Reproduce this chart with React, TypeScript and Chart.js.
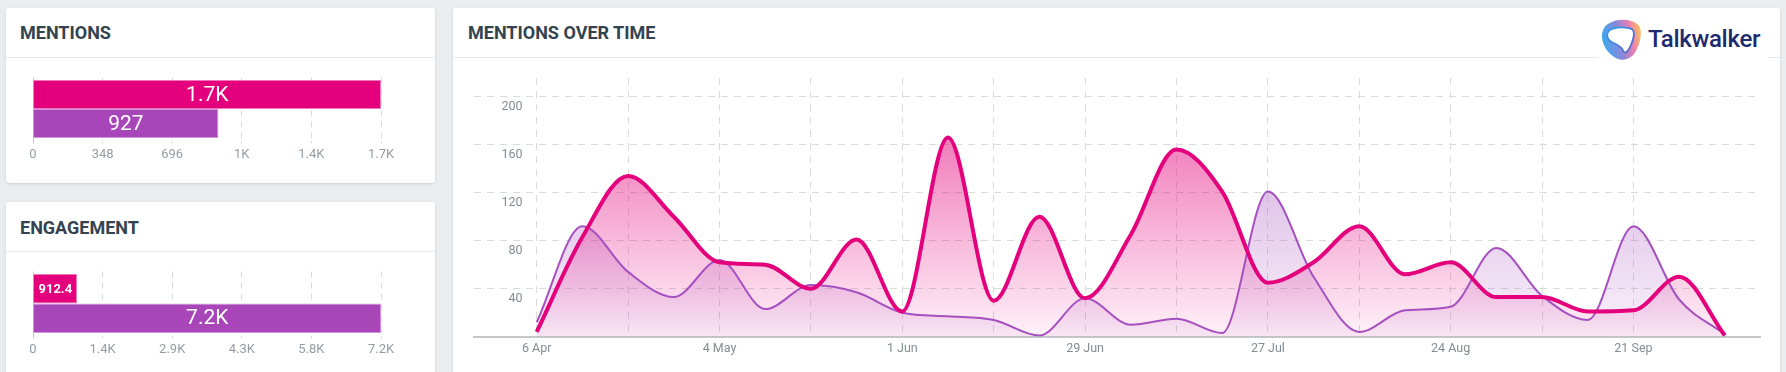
import React, { useEffect, useRef } from 'react';
import { Chart, registerables } from 'chart.js';

Chart.register(...registerables);

// ---------- data ----------
const barSeries = ['Current period', 'Previous period'];
const mentionsTotals = [1740, 927];
const engagementTotals = [912.4, 7200];

const weekLabels = [
  '6 Apr', '13 Apr', '20 Apr', '27 Apr', '4 May', '11 May', '18 May', '25 May',
  '1 Jun', '8 Jun', '15 Jun', '22 Jun', '29 Jun', '6 Jul', '13 Jul', '20 Jul',
  '27 Jul', '3 Aug', '10 Aug', '17 Aug', '24 Aug', '31 Aug', '7 Sep', '14 Sep',
  '21 Sep', '28 Sep', '5 Oct',
];
const pinkWeekly = [4, 83, 134, 100, 62, 60, 40, 81, 21, 166, 30, 100, 32, 85, 156, 121, 45, 62, 92, 52, 62, 33, 33, 21, 22, 50, 1];
const purpleWeekly = [12, 92, 54, 33, 64, 23, 43, 37, 20, 17, 14, 1, 32, 10, 15, 3, 121, 50, 4, 22, 25, 74, 34, 14, 92, 31, 2];
const yTickValues = [0, 40, 80, 120, 160, 200];

// ---------- styles ----------
const PINK = '#e4007c';
const PURPLE = '#a845b9';
const LINE_PURPLE = '#a650c0';
const GRID = '#d9dbdc';
const TICK_TEXT = '#848c91';
const TITLE = '#33434f';

function fmt(v: number): string {
  if (Math.abs(v) >= 1000) {
    return (v / 1000).toFixed(1).replace(/\.0$/, '') + 'K';
  }
  return String(Math.round(v * 10) / 10);
}

const barLabelPlugin = {
  id: 'barLabels',
  afterDatasetsDraw(chart: any) {
    const { ctx } = chart;
    chart.data.datasets.forEach((ds: any, di: number) => {
      const meta = chart.getDatasetMeta(di);
      meta.data.forEach((bar: any, i: number) => {
        const v = ds.data[i] as number;
        const w = Math.abs(bar.x - bar.base);
        const small = w < 70;
        ctx.save();
        ctx.font = small ? 'bold 13px Roboto' : '21px Roboto';
        ctx.fillStyle = '#ffffff';
        ctx.textAlign = 'center';
        ctx.textBaseline = 'middle';
        ctx.fillText(fmt(v), (bar.x + bar.base) / 2, bar.y + 1);
        ctx.restore();
      });
    });
  },
};

function HBar(props: { values: number[]; left: number; top: number; width: number; height: number; pad: any }) {
  const ref = useRef<HTMLCanvasElement>(null);
  useEffect(() => {
    const canvas = ref.current!;
    const max = Math.max(...props.values);
    const colors = [PINK, PURPLE];
    const borders = ['#f07ab9', '#cf94dc'];
    const chart = new Chart(canvas, {
      type: 'bar',
      data: {
        labels: [''],
        datasets: barSeries.map((name, k) => ({
          label: name,
          data: [props.values[k]],
          backgroundColor: colors[k],
          borderColor: borders[k],
          borderWidth: 1,
          categoryPercentage: 0.92,
          barPercentage: 1,
        })),
      },
      options: {
        indexAxis: 'y',
        animation: false,
        responsive: false,
        maintainAspectRatio: false,
        layout: { padding: props.pad },
        plugins: { legend: { display: false }, tooltip: { enabled: false } },
        scales: {
          x: {
            min: 0,
            max,
            ticks: {
              stepSize: max / 5,
              callback: (v: any) => fmt(Number(v)),
              color: '#959da2',
              font: { family: 'Roboto', size: 13 },
              padding: 3,
              maxRotation: 0,
              autoSkip: false,
            },
            grid: {
              color: (c: any) => (c.tick && c.tick.value === 0 ? '#c3c7ca' : GRID),
              drawTicks: true,
              tickLength: 3,
            },
            border: {
              display: false,
              dash: (c: any) => (c.tick && c.tick.value === 0 ? [] : [6, 5]),
            },
            afterFit: (s: any) => {
              s.paddingLeft = 0;
              s.paddingRight = 0;
            },
          },
          y: { display: false },
        },
      } as any,
      plugins: [barLabelPlugin],
    });
    return () => chart.destroy();
  }, []);
  return (
    <canvas
      ref={ref}
      width={props.width}
      height={props.height}
      style={{ position: 'absolute', left: props.left, top: props.top, width: props.width, height: props.height }}
    />
  );
}

function gradientFill(top: string, bottom: string) {
  return (c: any) => {
    const { chart } = c;
    const { ctx, chartArea } = chart;
    if (!chartArea) return top;
    const g = ctx.createLinearGradient(0, chartArea.top, 0, chartArea.bottom);
    g.addColorStop(0, top);
    g.addColorStop(1, bottom);
    return g;
  };
}

function TimeChart() {
  const ref = useRef<HTMLCanvasElement>(null);
  useEffect(() => {
    const canvas = ref.current!;
    const gridWeeks = weekLabels.map((_, i) => i).filter((i) => i % 2 === 0 && i < weekLabels.length - 1);
    const chart = new Chart(canvas, {
      type: 'line',
      data: {
        datasets: [
          {
            label: barSeries[0],
            data: pinkWeekly.map((y, i) => ({ x: i, y })),
            borderColor: PINK,
            borderWidth: 4,
            pointRadius: 0,
            fill: 'origin',
            backgroundColor: gradientFill('rgba(228,0,124,0.65)', 'rgba(228,0,124,0.05)'),
            cubicInterpolationMode: 'monotone',
          },
          {
            label: barSeries[1],
            data: purpleWeekly.map((y, i) => ({ x: i, y })),
            borderColor: LINE_PURPLE,
            borderWidth: 2,
            pointRadius: 0,
            fill: 'origin',
            backgroundColor: gradientFill('rgba(166,76,190,0.55)', 'rgba(166,76,190,0.07)'),
            cubicInterpolationMode: 'monotone',
          },
        ],
      },
      options: {
        animation: false,
        responsive: false,
        maintainAspectRatio: false,
        layout: { padding: { left: 20.5, right: 19.5, top: 18, bottom: 11.5 } },
        plugins: {
          legend: { display: false },
          tooltip: { enabled: false },
          filler: { drawTime: 'beforeDatasetsDraw' },
        },
        scales: {
          x: {
            type: 'linear',
            min: -1.383,
            max: 26.78,
            afterBuildTicks: (s: any) => {
              s.ticks = gridWeeks.map((v) => ({ value: v }));
            },
            ticks: {
              autoSkip: false,
              maxRotation: 0,
              padding: 4.4,
              color: TICK_TEXT,
              font: { family: 'Roboto', size: 12.5 },
              callback: (v: any) => (Number(v) % 4 === 0 ? weekLabels[Number(v)] : ''),
            },
            grid: { color: GRID, drawTicks: false },
            border: { display: true, color: '#c4c8cb', width: 2, dash: [7, 6] },
            afterFit: (s: any) => {
              s.paddingLeft = 0;
              s.paddingRight = 0;
            },
          },
          y: {
            min: 0,
            max: 215.6,
            afterBuildTicks: (s: any) => {
              s.ticks = yTickValues.map((v) => ({ value: v }));
            },
            ticks: {
              mirror: true,
              crossAlign: 'far',
              padding: 28,
              labelOffset: 10,
              color: TICK_TEXT,
              font: { family: 'Roboto', size: 12.5 },
              callback: (v: any) => (Number(v) === 0 ? '' : String(v)),
            },
            grid: {
              color: (c: any) => (c.tick && c.tick.value === 0 ? 'rgba(0,0,0,0)' : GRID),
              drawTicks: false,
            },
            border: { display: false, dash: [7, 6] },
            afterFit: (s: any) => {
              s.width = 0;
              s.paddingTop = 0;
              s.paddingBottom = 0;
            },
          },
        },
      } as any,
    });
    return () => chart.destroy();
  }, []);
  return (
    <canvas
      ref={ref}
      width={1327}
      height={312}
      style={{ position: 'absolute', left: 453, top: 60, width: 1327, height: 312 }}
    />
  );
}

function Card(props: { left: number; top: number; width: number; height: number; title: string; titleTop: number; titleLeft: number }) {
  return (
    <div
      style={{
        position: 'absolute',
        left: props.left,
        top: props.top,
        width: props.width,
        height: props.height,
        background: '#ffffff',
        borderRadius: 3,
        boxShadow: '0 1px 3px rgba(0,0,0,0.13)',
      }}
    >
      <div
        style={{
          position: 'absolute',
          left: props.titleLeft,
          top: props.titleTop,
          fontFamily: 'Roboto, sans-serif',
          fontWeight: 700,
          fontSize: 18,
          lineHeight: '18px',
          color: TITLE,
          whiteSpace: 'nowrap',
        }}
      >
        {props.title}
      </div>
      <div style={{ position: 'absolute', left: 0, right: 0, top: 49, height: 1, background: '#e6e9eb' }} />
    </div>
  );
}

function Logo() {
  return (
    <div style={{ position: 'absolute', left: 1598, top: 14, width: 170, height: 46, background: '#ffffff' }}>
      <svg width="42" height="42" viewBox="0 0 40 40" style={{ position: 'absolute', left: 3, top: 4 }}>
        <defs>
          <linearGradient id="twg" x1="0" y1="0.5" x2="1" y2="0.3">
            <stop offset="0" stopColor="#3aa8f0" />
            <stop offset="0.45" stopColor="#8f86d8" />
            <stop offset="0.75" stopColor="#ef7fb2" />
            <stop offset="1" stopColor="#f7c25a" />
          </linearGradient>
          <linearGradient id="twi" x1="0" y1="0" x2="1" y2="1">
            <stop offset="0" stopColor="#2f9de8" />
            <stop offset="1" stopColor="#5b5fc7" />
          </linearGradient>
        </defs>
        <path
          d="M8 5 C 16 0, 29 1, 35 6 C 40 11, 38 22, 34 30 C 30 39, 21 42, 14 38 C 6 34, 0 24, 1 15 C 2 10, 4 7, 8 5 Z"
          fill="url(#twg)"
        />
        <path
          d="M7 13 C 11 8, 25 8, 30 11 C 33 14, 30 23, 27 29 C 25 33, 22 34, 21 31 C 19 26, 13 25, 9 22 C 6 20, 5 16, 7 13 Z"
          fill="#ffffff"
          stroke="url(#twi)"
          strokeWidth="1.6"
        />
      </svg>
      <div
        style={{
          position: 'absolute',
          left: 50,
          top: 13,
          fontFamily: 'Roboto, sans-serif',
          fontWeight: 500,
          fontSize: 24,
          lineHeight: '24px',
          letterSpacing: -0.3,
          color: '#1e2a6e',
          whiteSpace: 'nowrap',
        }}
      >
        Talkwalker
      </div>
    </div>
  );
}

export default function App() {
  useEffect(() => {
    document.body.style.margin = '0';
  }, []);
  return (
    <div
      style={{
        position: 'fixed',
        left: 0,
        top: 0,
        width: 1786,
        height: 372,
        background: '#e9edf0',
        overflow: 'hidden',
      }}
    >
      <Card left={6} top={8} width={429} height={175} title="MENTIONS" titleTop={16} titleLeft={14} />
      <Card left={6} top={202} width={429} height={200} title="ENGAGEMENT" titleTop={17} titleLeft={14} />
      <Card left={453} top={8} width={1327} height={400} title="MENTIONS OVER TIME" titleTop={16} titleLeft={15} />
      <Logo />
      <HBar values={mentionsTotals} left={0} top={60} width={440} height={122} pad={{ left: 33, right: 59, top: 17.5, bottom: 16.9 }} />
      <HBar values={engagementTotals} left={0} top={255} width={440} height={117} pad={{ left: 33, right: 59, top: 16.5, bottom: 11.9 }} />
      <TimeChart />
    </div>
  );
}
